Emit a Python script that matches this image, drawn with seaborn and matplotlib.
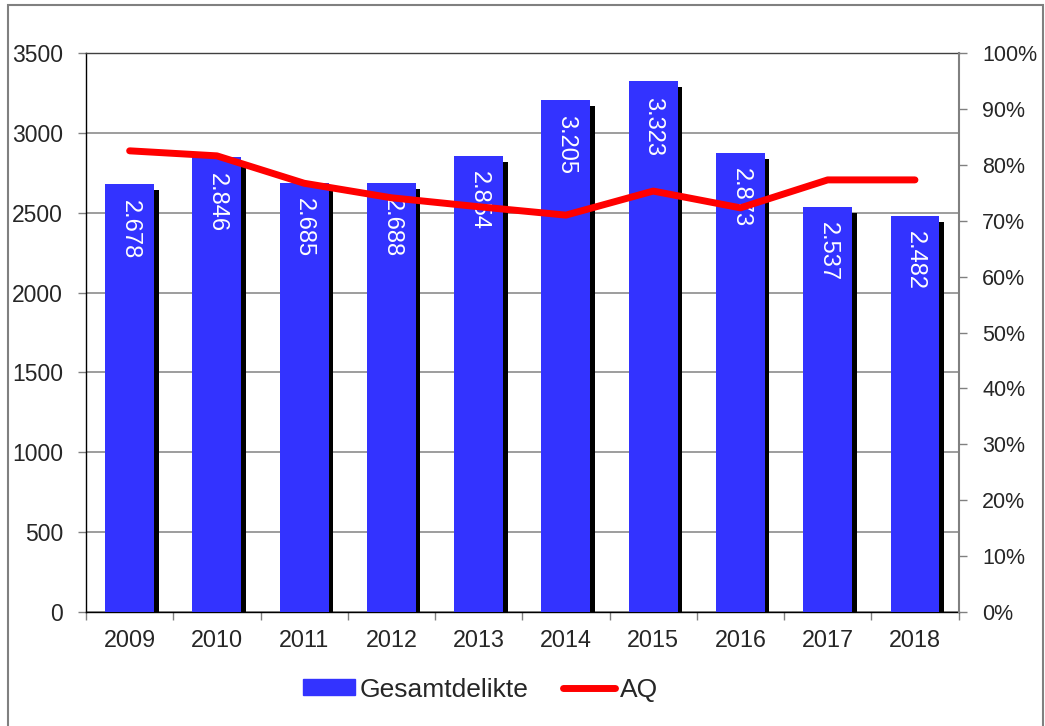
import matplotlib
matplotlib.use("Agg")
import matplotlib.pyplot as plt
import matplotlib.patheffects as pe
from matplotlib.patches import Rectangle
from matplotlib.lines import Line2D
from matplotlib.ticker import MultipleLocator, FixedLocator, PercentFormatter
import pandas as pd
import seaborn as sns

years = ["2009", "2010", "2011", "2012", "2013", "2014", "2015", "2016", "2017", "2018"]
gesamtdelikte = [2678, 2846, 2685, 2688, 2854, 3205, 3323, 2873, 2537, 2482]
aq = [82.5, 81.6, 76.7, 74.1, 72.5, 71.0, 75.3, 72.3, 77.3, 77.3]
bar_labels = ["2.678", "2.846", "2.685", "2.688", "2.854", "3.205", "3.323", "2.873", "2.537", "2.482"]

df = pd.DataFrame({"Jahr": years, "Gesamtdelikte": gesamtdelikte, "AQ": aq})

sns.set_style("white")
plt.rcParams["font.family"] = ["Liberation Sans", "DejaVu Sans"]
fs = 16.8
blue = "#3333FF"

fig = plt.figure(figsize=(10.45, 7.26), dpi=100)
ax = fig.add_axes([0.0823, 0.157, 0.835, 0.770])

sns.barplot(data=df, x="Jahr", y="Gesamtdelikte", color=blue, saturation=1,
            width=0.56, ax=ax, zorder=3)
for p in ax.patches:
    p.set_path_effects([pe.SimplePatchShadow(offset=(3.3, -4.3), shadow_rgbFace="black", alpha=1),
                        pe.Normal()])
    p.set_edgecolor("none")

for i, (v, lab) in enumerate(zip(gesamtdelikte, bar_labels)):
    ax.annotate(lab, (i, v), xytext=(0, -11), textcoords="offset points",
                rotation=-90, ha="center", va="top", color="white", fontsize=17, zorder=5)

ax.set_xlim(-0.5, 9.5)
ax.set_ylim(0, 3500)
ax.yaxis.set_major_locator(MultipleLocator(500))
ax.set_axisbelow(True)
ax.grid(axis="y", color="#8c8c8c", linewidth=1.2)
ax.set_xlabel("")
ax.set_ylabel("")
ax.xaxis.set_minor_locator(FixedLocator([x - 0.5 for x in range(11)]))
ax.tick_params(axis="x", which="major", length=0, pad=12, labelsize=fs)
ax.tick_params(axis="x", which="minor", bottom=True, length=6, color="#808080", width=1)
ax.tick_params(axis="y", left=True, length=6, color="#808080", width=1, pad=10.5, labelsize=16.5)
for s in ["left", "bottom"]:
    ax.spines[s].set_color("black")
    ax.spines[s].set_linewidth(1)
ax.spines["top"].set_color("#404040")
ax.spines["top"].set_linewidth(1)
ax.spines["right"].set_visible(False)

ax2 = ax.twinx()
sns.pointplot(data=df, x="Jahr", y="AQ", ax=ax2, color="red", markers="",
              linewidth=5, solid_capstyle="round", zorder=6)
ax2.set_xlim(-0.5, 9.5)
ax2.set_ylim(0, 100)
ax2.yaxis.set_major_locator(MultipleLocator(10))
ax2.yaxis.set_major_formatter(PercentFormatter(100, decimals=0))
ax2.set_ylabel("")
ax2.set_xlabel("")
ax2.tick_params(axis="y", right=True, length=6, color="#808080", width=1, pad=11, labelsize=15.5)
ax2.spines["right"].set_color("#808080")
ax2.spines["right"].set_linewidth(1.5)
for s in ["left", "top", "bottom"]:
    ax2.spines[s].set_visible(False)

handles = [Rectangle((0, 0), 1, 1, color=blue),
           Line2D([], [], color="red", linewidth=5, solid_capstyle="round")]
fig.legend(handles, ["Gesamtdelikte", "AQ"], loc="center", bbox_to_anchor=(0.46, 0.05),
           ncol=2, frameon=False, fontsize=19, handlelength=1.95, handleheight=0.55,
           handletextpad=0.2, columnspacing=1.3)

fig.patches.append(Rectangle((8 / 1045, -0.01), 1035 / 1045, 1 - 5 / 726 + 0.01,
                             transform=fig.transFigure, fill=False,
                             edgecolor="#808080", linewidth=1.5))

fig.savefig("out.png", dpi=100)
